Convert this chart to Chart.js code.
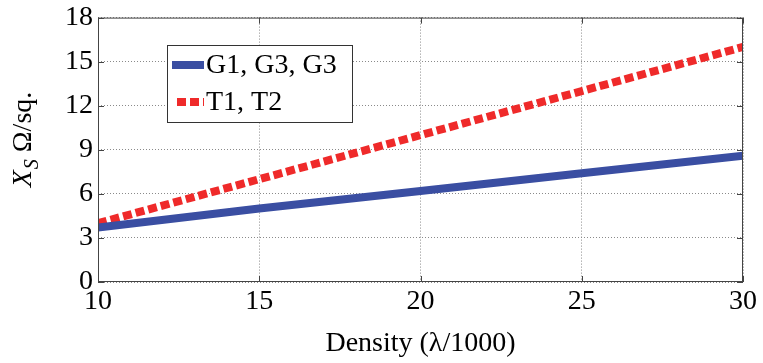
<!DOCTYPE html>
<html>
<head>
<meta charset="utf-8">
<script src="https://cdn.jsdelivr.net/npm/chart.js@4/dist/chart.umd.min.js"></script>
<style>
  html, body { margin: 0; padding: 0; background: #fff; }
  #wrap { width: 763px; height: 363px; }
</style>
</head>
<body>
<div id="wrap"><canvas id="myChart" width="763" height="363"></canvas></div>
<script>
// density values along the x axis
var density = [10, 15, 20, 25, 30];
// reactance per series
var gSeries = [3.7, 5.0, 6.2, 7.4, 8.6];
var tSeries = [4.0, 7.0, 10.0, 13.0, 16.0];
var seriesNames = ["G1, G3, G3", "T1, T2"];
var xTicks = [10, 15, 20, 25, 30];
var yTicks = [0, 3, 6, 9, 12, 15, 18];

var serif = "Liberation Serif";
var blue = "#3a4ea2";
var red = "#ef2a2a";

function pts(ys) {
  return density.map(function (x, i) { return { x: x, y: ys[i] }; });
}

// box round the plot, small inward ticks, the y title and the legend
var decor = {
  id: "decor",
  afterDatasetsDraw: function (chart) {
    var ctx = chart.ctx, a = chart.chartArea;
    var xs = chart.scales.x, ys = chart.scales.y;
    ctx.save();
    ctx.strokeStyle = "#444";
    ctx.lineWidth = 1;
    ctx.strokeRect(a.left + 0.5, a.top + 0.5, a.right - a.left - 1, a.bottom - a.top - 1);
    ctx.beginPath();
    xTicks.forEach(function (v) {
      var px = Math.round(xs.getPixelForValue(v)) + 0.5;
      ctx.moveTo(px, a.bottom); ctx.lineTo(px, a.bottom - 6);
      ctx.moveTo(px, a.top); ctx.lineTo(px, a.top + 6);
    });
    yTicks.forEach(function (v) {
      var py = Math.round(ys.getPixelForValue(v)) + 0.5;
      ctx.moveTo(a.left, py); ctx.lineTo(a.left + 6, py);
      ctx.moveTo(a.right, py); ctx.lineTo(a.right - 6, py);
    });
    ctx.stroke();

    // legend
    var lx = 167, ly = 45, lw = 185, lh = 77;
    ctx.fillStyle = "#fff";
    ctx.fillRect(lx, ly, lw, lh);
    ctx.strokeStyle = "#333";
    ctx.strokeRect(lx + 0.5, ly + 0.5, lw, lh);
    ctx.font = "28px '" + serif + "'";
    ctx.textBaseline = "middle";
    chart.data.datasets.forEach(function (ds, i) {
      var cy = ly + 20 + i * 37;
      ctx.beginPath();
      ctx.strokeStyle = ds.borderColor;
      ctx.lineWidth = ds.borderWidth;
      ctx.setLineDash(ds.borderDash || []);
      ctx.moveTo(i ? 177 : 172, cy);
      ctx.lineTo(204, cy);
      ctx.stroke();
      ctx.setLineDash([]);
      ctx.fillStyle = "#000";
      ctx.fillText(ds.label, 206, cy + 1);
    });

    // rotated y title with subscript
    ctx.translate(22, 140);
    ctx.rotate(-Math.PI / 2);
    ctx.fillStyle = "#000";
    ctx.textBaseline = "alphabetic";
    var big = "italic 28px '" + serif + "'", small = "italic 20px '" + serif + "'", plain = "28px '" + serif + "'";
    ctx.font = big; var w1 = ctx.measureText("X").width;
    ctx.font = small; var w2 = ctx.measureText("S").width;
    ctx.font = plain; var w3 = ctx.measureText(" \u03A9/sq.").width;
    var x0 = -(w1 + w2 + w3) / 2;
    ctx.font = big; ctx.fillText("X", x0, 9);
    ctx.font = small; ctx.fillText("S", x0 + w1 + 1, 16);
    ctx.font = plain; ctx.fillText(" \u03A9/sq.", x0 + w1 + w2 + 1, 9);
    ctx.restore();
  }
};

Chart.defaults.font.family = "'" + serif + "'";

new Chart("myChart", {
  type: "line",
  data: {
    datasets: [{
      label: seriesNames[0],
      data: pts(gSeries),
      borderColor: blue,
      borderWidth: 8,
      pointRadius: 0,
      fill: false
    }, {
      label: seriesNames[1],
      data: pts(tSeries),
      borderColor: red,
      borderWidth: 8,
      borderDash: [9, 4],
      pointRadius: 0,
      fill: false
    }]
  },
  options: {
    responsive: false,
    animation: false,
    layout: { padding: { top: 13, right: 16, left: 0, bottom: 0 } },
    plugins: { legend: { display: false }, tooltip: { enabled: false } },
    scales: {
      x: {
        type: "linear",
        min: 10, max: 30,
        afterBuildTicks: function (s) { s.ticks = xTicks.map(function (v) { return { value: v }; }); },
        afterFit: function (s) { s.height = 81; },
        grid: { color: "#8a8a8a", drawTicks: false },
        border: { display: false, dash: [1, 2] },
        ticks: { color: "#000", padding: 6, font: { size: 28, lineHeight: 1 } },
        title: {
          display: true,
          text: "Density (\u03BB/1000)",
          color: "#000",
          font: { size: 28, lineHeight: 1.2 },
          padding: { top: 0, bottom: 3 }
        }
      },
      y: {
        min: 0, max: 18,
        afterBuildTicks: function (s) { s.ticks = yTicks.map(function (v) { return { value: v }; }); },
        afterFit: function (s) { s.width = 98; },
        grid: { color: "#8a8a8a", drawTicks: false },
        border: { display: false, dash: [1, 2] },
        ticks: { color: "#000", padding: 5, font: { size: 28, lineHeight: 0.9 } }
      }
    }
  },
  plugins: [decor]
});
</script>
</body>
</html>
